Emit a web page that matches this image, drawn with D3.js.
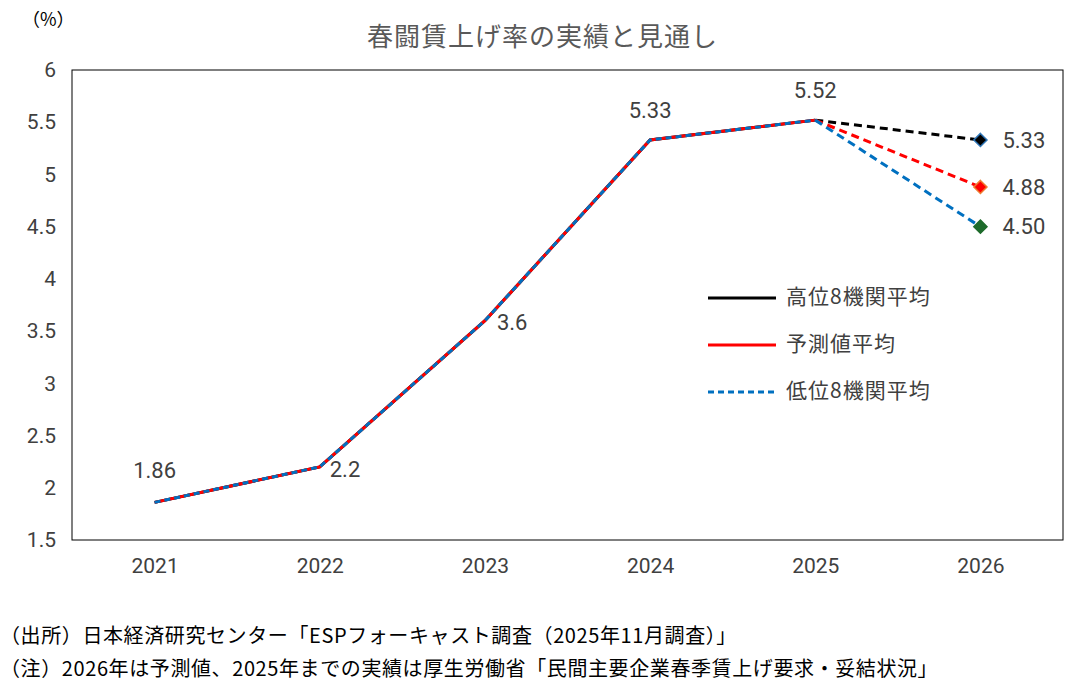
<!DOCTYPE html>
<html><head><meta charset="utf-8">
<script src="https://cdn.jsdelivr.net/npm/d3@7"></script>
<style>body{margin:0;background:#fff}text{font-family:"Noto Sans CJK JP","Noto Sans",sans-serif}</style>
</head><body><svg id="chart"></svg>
<script>
const years = ["2021", "2022", "2023", "2024", "2025", "2026"];
const actual = [1.86, 2.2, 3.6, 5.33, 5.52];
const high = [1.86, 2.2, 3.6, 5.33, 5.52, 5.33];
const mid = [1.86, 2.2, 3.6, 5.33, 5.52, 4.88];
const low = [1.86, 2.2, 3.6, 5.33, 5.52, 4.50];
const yTicks = [1.5, 2, 2.5, 3, 3.5, 4, 4.5, 5, 5.5, 6];
const actualLabels = ["1.86", "2.2", "3.6", "5.33", "5.52"];
const forecastLabels = ["5.33", "4.88", "4.50"];
const legendNames = ["高位8機関平均", "予測値平均", "低位8機関平均"];
const notes = ["（出所）日本経済研究センター「ESPフォーキャスト調査（2025年11月調査）」",
  "（注）2026年は予測値、2025年までの実績は厚生労働省「民間主要企業春季賃上げ要求・妥結状況」"];

const width = 1069, height = 689;
const L = 72, R = 1063, T = 70, B = 540;
const svg = d3.select("#chart").attr("width", width).attr("height", height);

const x = d3.scalePoint().domain(years).range([L, R]).padding(0.5);
const y = d3.scaleLinear().domain([1.5, 6]).range([B, T]);

svg.append("rect").attr("x", L).attr("y", T).attr("width", R - L).attr("height", B - T)
  .attr("fill", "none").attr("stroke", "#000").attr("stroke-width", 1);

svg.append("text").attr("x", width / 2 + 8).attr("y", 46).attr("text-anchor", "middle")
  .attr("font-size", 26).attr("letter-spacing", 1).attr("fill", "#595959").text("春闘賃上げ率の実績と見通し");
svg.append("text").attr("x", 22).attr("y", 26).attr("font-size", 18).attr("fill", "#000").text("（%）");

const yAxis = svg.append("g").attr("transform", `translate(${L},0)`)
  .call(d3.axisLeft(y).tickValues(yTicks).tickSize(0).tickPadding(16).tickFormat(d3.format("")));
yAxis.select(".domain").remove();
yAxis.selectAll("text").attr("font-size", 21).attr("fill", "#404040").style("font-family", "Roboto");

const xAxis = svg.append("g").attr("transform", `translate(0,${B})`)
  .call(d3.axisBottom(x).tickSize(0).tickPadding(18));
xAxis.select(".domain").remove();
xAxis.selectAll("text").attr("font-size", 21).attr("fill", "#404040").style("font-family", "Roboto");

const line = d3.line().x((d, i) => x(years[i])).y(d => y(d));
const series = [
  {vals: high, color: "#000", dashHist: null},
  {vals: mid, color: "#ff0000", dashHist: null},
  {vals: low, color: "#0070c0", dashHist: "6,4"}
];
series.forEach(s => {
  svg.append("path").datum(s.vals.slice(0, 5)).attr("d", line).attr("fill", "none")
    .attr("stroke", s.color).attr("stroke-width", 3).attr("stroke-dasharray", s.dashHist);
});
series.forEach(s => {
  const seg = d3.line().x((d, i) => x(years[4 + i])).y(d => y(d));
  svg.append("path").datum(s.vals.slice(4)).attr("d", seg).attr("fill", "none")
    .attr("stroke", s.color).attr("stroke-width", 3).attr("stroke-dasharray", "8,5");
});

const markers = [
  {v: high[5], fill: "#000", stroke: "#2e75b6"},
  {v: mid[5], fill: "#ff0000", stroke: "#ed7d31"},
  {v: low[5], fill: "#1e6b2b", stroke: "#1e6b2b"}
];
markers.forEach(m => {
  svg.append("path").attr("d", d3.symbol(d3.symbolDiamond2, 110)())
    .attr("transform", `translate(${x("2026")},${y(m.v)})`)
    .attr("fill", m.fill).attr("stroke", m.stroke).attr("stroke-width", 1.5);
});

const lblStyle = sel => sel.attr("font-size", 22).attr("fill", "#404040").style("font-family", "Roboto");
const offsets = [[0, -30, "middle"], [10, 4, "start"], [12, 4, "start"], [0, -28, "middle"], [0, -28, "middle"]];
actual.forEach((v, i) => {
  svg.append("text").attr("x", x(years[i]) + offsets[i][0]).attr("y", y(v) + offsets[i][1])
    .attr("text-anchor", offsets[i][2]).attr("dominant-baseline", "middle").text(actualLabels[i]).call(lblStyle);
});
[high[5], mid[5], low[5]].forEach((v, i) => {
  svg.append("text").attr("x", x("2026") + 22).attr("y", y(v) + 2)
    .attr("dominant-baseline", "middle").text(forecastLabels[i]).call(lblStyle);
});

legendNames.forEach((n, i) => {
  const ly = 298 + i * 47;
  svg.append("line").attr("x1", 708).attr("x2", 776).attr("y1", ly).attr("y2", ly)
    .attr("stroke", series[i].color).attr("stroke-width", 3)
    .attr("stroke-dasharray", i === 2 ? "6,4" : null);
  svg.append("text").attr("x", 786).attr("y", ly).attr("dominant-baseline", "middle")
    .attr("font-size", 21).attr("letter-spacing", 1).attr("fill", "#404040").text(n);
});

notes.forEach((t, i) => {
  svg.append("text").attr("x", 0).attr("y", 643 + i * 33).attr("font-size", 20)
    .attr("letter-spacing", 0.6).attr("fill", "#000").text(t);
});
</script></body></html>
